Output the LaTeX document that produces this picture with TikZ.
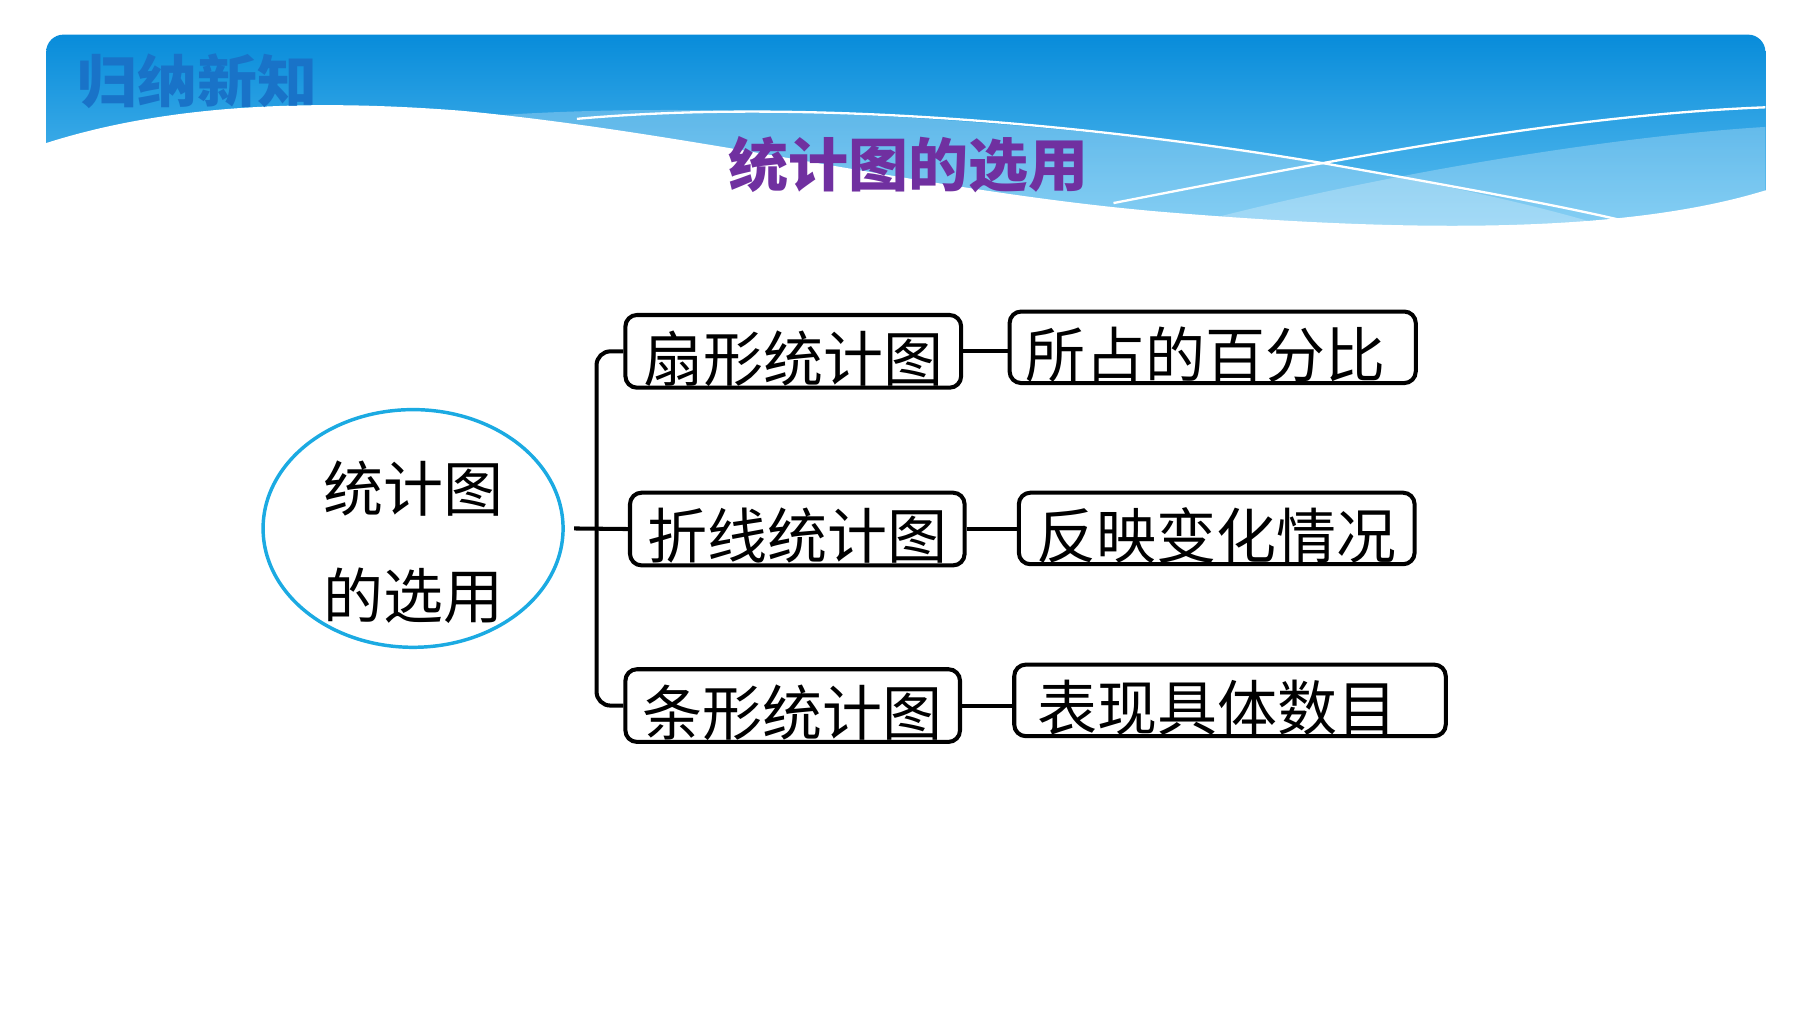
\documentclass[tikz,border=0pt]{standalone}
\usepackage{fontspec}
\setmainfont{Noto Sans CJK SC}
\usetikzlibrary{shapes.geometric}
\definecolor{hdtop}{RGB}{8,140,218}
\definecolor{hdbot}{RGB}{100,195,242}
\definecolor{kicker}{RGB}{25,115,200}
\definecolor{titlepurple}{RGB}{112,48,160}
\definecolor{ringblue}{RGB}{27,170,226}
\begin{document}
\begin{tikzpicture}[x=0.5pt,y=-0.5pt,
  box/.style={draw, line width=1.75pt, rounded corners=5pt, inner sep=0pt,
    minimum height=31.5pt, font=\fontsize{26}{30}\selectfont,
    text height=25.8pt, text depth=0pt},
  conn/.style={line width=1.75pt},
  wline/.style={white, line width=1pt}]
\useasboundingbox (0,0) rectangle (1560,877);
% header band
\begin{scope}
  \clip[rounded corners=7.5pt] (40,30) rectangle (1530,240);
  \shade[top color=hdtop, bottom color=hdbot] (40,30) rectangle (1530,210);
  \fill[white, opacity=0.25] (430,100) .. controls (650,85) and (950,108) .. (1150,142)
     .. controls (1280,165) and (1360,185) .. (1420,205) -- (1420,240) -- (430,240) -- cycle;
  \fill[white, opacity=0.25] (1040,192) .. controls (1200,150) and (1400,118) .. (1530,110)
     -- (1530,240) -- (1040,240) -- cycle;
\end{scope}
\fill[white] (40,124) .. controls (140,92) and (260,85) .. (400,96)
   .. controls (600,115) and (800,165) .. (1000,183)
   .. controls (1200,200) and (1400,205) .. (1530,165) -- (1545,165) -- (1545,240)
   -- (34,240) -- (34,124) -- cycle;
\begin{scope}
  \clip (40,30) rectangle (1530,240);
  \draw[wline] (500,103) .. controls (700,85) and (950,108) .. (1150,142)
     .. controls (1280,165) and (1360,180) .. (1410,192);
  \draw[wline] (965,176) .. controls (1150,140) and (1350,100) .. (1530,93);
\end{scope}
\node[font=\fontsize{24.5}{28}\selectfont\bfseries, text=kicker, inner sep=0pt] (kick) at (171,70) {\scalebox{1.06}[1]{归纳新知}};
\node[font=\fontsize{25}{30}\selectfont\bfseries, text=titlepurple, inner sep=0pt] (title) at (787,143) {\scalebox{1.04}[1]{统计图的选用}};
% central ellipse
\node[ellipse, draw=ringblue, line width=1.5pt, minimum width=130pt, minimum height=103pt, inner sep=0pt] (e) at (358,458) {};
\node[font=\fontsize{26}{46.5}\selectfont, align=center, inner sep=0pt] (et) at (358,470) {统计图\\的选用};
% boxes
\node[box, minimum width=145.5pt] (b1) at (687.5,304.5) {扇形统计图};
\node[box, minimum width=145pt] (b2) at (691,458.5) {折线统计图};
\node[box, minimum width=145pt] (b3) at (687,611.5) {条形统计图};
\node[box, minimum width=176pt, minimum height=31pt] (c1) at (1051,301) {\hspace*{-3pt}所占的百分比\hspace*{3pt}};
\node[box, minimum width=171.5pt, minimum height=31pt] (c2) at (1054.5,458) {反映变化情况};
\node[box, minimum width=187pt, minimum height=31pt] (c3) at (1066,607) {\hspace*{-5.5pt}表现具体数目\hspace*{5.5pt}};
% connectors
\coordinate (trunk) at (517,458);
\draw[conn] ([xshift=4pt]e.east) -- (b2.west);
\draw[conn, rounded corners=6pt] (b1.west) -| (trunk) |- (b3.west);
\draw[conn] (b1.east) -- (b1.east -| c1.west);
\draw[conn] (b2.east) -- (b2.east -| c2.west);
\draw[conn] (b3.east) -- (b3.east -| c3.west);
\end{tikzpicture}
\end{document}
